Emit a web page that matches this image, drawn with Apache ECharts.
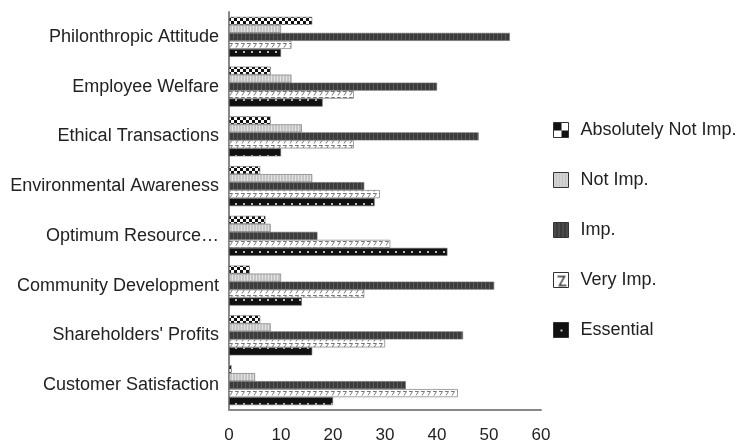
<!DOCTYPE html>
<html>
<head>
<meta charset="utf-8">
<script src="https://cdn.jsdelivr.net/npm/echarts@6/dist/echarts.min.js"></script>
<style>
  html, body { margin: 0; padding: 0; background: #fff; }
  #main { width: 743px; height: 447px; }
</style>
</head>
<body>
<div id="main"></div>
<script>
// categories bottom -> top
var categories = ['Customer Satisfaction', "Shareholders' Profits", 'Community Development',
  'Optimum Resource\u2026', 'Environmental Awareness', 'Ethical Transactions',
  'Employee Welfare', 'Philonthropic Attitude'];
var seriesNames = ['Absolutely Not Imp.', 'Not Imp.', 'Imp.', 'Very Imp.', 'Essential'];
var absNotImp = [0.5, 6, 4, 7, 6, 8, 8, 16];
var notImp    = [5, 8, 10, 8, 16, 14, 12, 10];
var imp       = [34, 45, 51, 17, 26, 48, 40, 54];
var veryImp   = [44, 30, 26, 31, 29, 24, 24, 12];
var essential = [20, 16, 14, 42, 28, 10, 18, 10];
var xTicks = [0, 10, 20, 30, 40, 50, 60];

function makePattern(w, h, draw) {
  var c = document.createElement('canvas');
  c.width = w; c.height = h;
  draw(c.getContext('2d'), w, h);
  return { image: c, repeat: 'repeat' };
}

// fills roughly like the old office patterns
var fills = [
  makePattern(6, 6, function (g) {      // checker
    g.fillStyle = '#fff'; g.fillRect(0, 0, 6, 6);
    g.fillStyle = '#111';
    g.fillRect(0, 0, 3, 3); g.fillRect(3, 3, 3, 3);
  }),
  makePattern(3, 4, function (g) {      // light stripes
    g.fillStyle = '#c4c4c4'; g.fillRect(0, 0, 3, 4);
    g.fillStyle = '#e2e2e2'; g.fillRect(1, 0, 1, 4);
  }),
  makePattern(4, 4, function (g) {      // dark stripes
    g.fillStyle = '#3c3c3c'; g.fillRect(0, 0, 4, 4);
    g.fillStyle = '#5a5a5a'; g.fillRect(1, 0, 1, 4);
  }),
  makePattern(6, 6, function (g) {      // hooks
    g.fillStyle = '#fff'; g.fillRect(0, 0, 6, 6);
    g.strokeStyle = '#777'; g.lineWidth = 1;
    g.beginPath(); g.moveTo(1, 1.5); g.lineTo(4.5, 1.5); g.lineTo(2, 5.5); g.stroke();
  }),
  makePattern(8, 8, function (g) {      // dots
    g.fillStyle = '#111'; g.fillRect(0, 0, 8, 8);
    g.fillStyle = '#bbb'; g.fillRect(3, 3, 2, 2);
  })
];
// bigger swatches for the legend keys
var keyFills = [
  makePattern(16, 16, function (g) {
    g.fillStyle = '#fff'; g.fillRect(0, 0, 16, 16);
    g.fillStyle = '#111'; g.fillRect(0, 0, 8, 8); g.fillRect(8, 8, 8, 8);
  }),
  fills[1], fills[2],
  makePattern(16, 16, function (g) {
    g.fillStyle = '#fff'; g.fillRect(0, 0, 16, 16);
    g.strokeStyle = '#333'; g.lineWidth = 1.5;
    g.beginPath(); g.moveTo(4, 4); g.lineTo(11, 4); g.lineTo(6, 13); g.lineTo(13, 13); g.stroke();
  }),
  makePattern(16, 16, function (g) {
    g.fillStyle = '#111'; g.fillRect(0, 0, 16, 16);
    g.fillStyle = '#ccc'; g.fillRect(7, 7, 2, 2);
  })
];
var values = [absNotImp, notImp, imp, veryImp, essential];

var chart = echarts.init(document.getElementById('main'));
var font = 'Liberation Sans, Arial, sans-serif';

var series = seriesNames.map(function (name, i) {
  return {
    name: name,
    type: 'bar',
    data: values[i],
    barWidth: 8,
    barGap: '0%',
    barCategoryGap: '20%',
    itemStyle: { color: fills[i], borderColor: '#666', borderWidth: 0.6 },
    z: 2
  };
});

chart.setOption({
  animation: false,
  backgroundColor: '#fff',
  grid: { left: 229, right: 202, top: 12, bottom: 37 },
  legend: {
    orient: 'vertical',
    left: 553,
    top: 120,
    padding: 0,
    itemWidth: 15,
    itemHeight: 15,
    itemGap: 30,
    icon: 'rect',
    data: seriesNames.map(function (n, i) {
      return { name: n, itemStyle: { color: keyFills[i], borderColor: '#333', borderWidth: 1 } };
    }),
    textStyle: { fontFamily: font, fontSize: 18, lineHeight: 20, color: '#222', padding: [0, 0, 0, 7] }
  },
  xAxis: {
    type: 'value',
    min: 0,
    max: 60,
    interval: 10,
    splitLine: { show: false },
    axisLine: { show: true, lineStyle: { color: '#888', width: 2 } },
    axisTick: { show: false },
    axisLabel: { fontFamily: font, fontSize: 17, color: '#222', margin: 17,
      formatter: function (v) { return xTicks.indexOf(v) >= 0 ? String(v) : ''; } }
  },
  yAxis: {
    type: 'category',
    data: categories,
    axisLine: { show: true, lineStyle: { color: '#888', width: 2 } },
    axisTick: { show: false },
    axisLabel: { fontFamily: font, fontSize: 18, color: '#222', margin: 10 }
  },
  series: series
});
</script>
</body>
</html>
